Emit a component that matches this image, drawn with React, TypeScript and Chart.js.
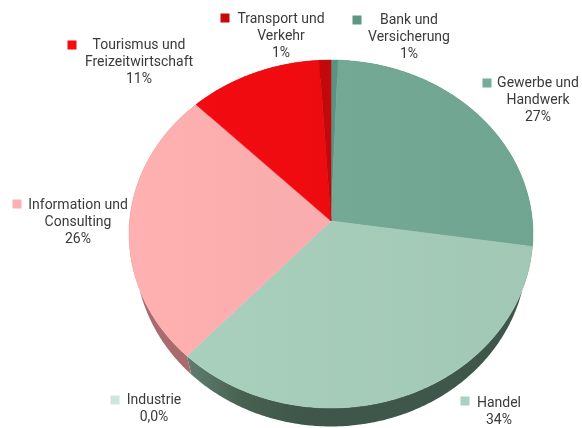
import React, { useEffect, useRef } from "react";
import { Chart, registerables } from "chart.js";

Chart.register(...registerables);

const categories = ["Bank und\nVersicherung", "Gewerbe und\nHandwerk", "Industrie", "Handel", "Information und\nConsulting", "Tourismus und\nFreizeitwirtschaft", "Transport und\nVerkehr"];
const shareValues = [0.6, 26.6, 0, 34.3, 25.6, 11.4, 1];
const shareLabels = ["1%", "27%", "0,0%", "34%", "26%", "11%", "1%"];
const faceColors = ["#5c9684", "#76ad98", "#cfe6dd", "#aad0be", "#ffb0b1", "#f40b10", "#c8080c"];
const sideColors = ["#3a5a4e", "#44604f", "#5f7e70", "#3f574b", "#a96b6d", "#8a1012", "#701012"];

// label layout: text-centre x, first line centre y, marker centre x, marker centre y
const labelLayout = [
  [409, 20, 357, 20],
  [538, 83, 487, 83],
  [154, 400, 115, 400],
  [499, 403, 465, 401],
  [78, 205, 17, 204],
  [139, 45, 72, 45],
  [281, 19, 225, 18],
];

const HUB_X = 331;
const HUB_Y = 221;
const A = 201.4;
const B = 173;
const K = 0.0747;
const DEPTH = 18.5;
const BOTTOM_SCALE = 0.97;

function project(angle: number, bottom: boolean) {
  const t = angle + Math.PI / 2;
  const s = Math.sin(t);
  const c = Math.cos(t);
  const w = 1 + K * c;
  return {
    x: HUB_X + (A * (bottom ? BOTTOM_SCALE : 1) * s) / w,
    y: HUB_Y + (bottom ? DEPTH : 0) - (B * c) / w,
  };
}

function trace(ctx: CanvasRenderingContext2D, a0: number, a1: number, bottom: boolean, first: boolean) {
  const steps = Math.max(2, Math.ceil(Math.abs(a1 - a0) / 0.01));
  for (let i = 0; i <= steps; i++) {
    const p = project(a0 + ((a1 - a0) * i) / steps, bottom);
    if (i === 0 && first) ctx.moveTo(p.x, p.y);
    else ctx.lineTo(p.x, p.y);
  }
}

const perspectivePie = {
  id: "perspectivePie",
  beforeDatasetsDraw(chart: any) {
    const ctx: CanvasRenderingContext2D = chart.ctx;
    const arcs = chart.getDatasetMeta(0).data;
    ctx.save();
    // rim
    arcs.forEach((arc: any, i: number) => {
      if (arc.endAngle - arc.startAngle <= 0) return;
      ctx.beginPath();
      trace(ctx, arc.startAngle, arc.endAngle, false, true);
      trace(ctx, arc.endAngle, arc.startAngle, true, false);
      ctx.closePath();
      let fill: any = sideColors[i];
      if (i === 3) {
        const g = ctx.createLinearGradient(187, 0, 300, 0);
        g.addColorStop(0, "#5f7e70");
        g.addColorStop(0.5, "#47604f");
        g.addColorStop(1, sideColors[i]);
        fill = g;
      }
      ctx.fillStyle = fill;
      ctx.fill();
    });
    // top face
    arcs.forEach((arc: any, i: number) => {
      if (arc.endAngle - arc.startAngle <= 0) return;
      ctx.beginPath();
      ctx.moveTo(HUB_X, HUB_Y);
      trace(ctx, arc.startAngle, arc.endAngle, false, false);
      ctx.closePath();
      ctx.fillStyle = faceColors[i];
      ctx.strokeStyle = faceColors[i];
      ctx.lineWidth = 0.5;
      ctx.fill();
      ctx.stroke();
    });
    // soft sheen
    ctx.beginPath();
    trace(ctx, 0, Math.PI * 2, false, true);
    ctx.closePath();
    const sheen = ctx.createLinearGradient(129, 0, 533, 0);
    sheen.addColorStop(0, "rgba(0,30,15,0)");
    sheen.addColorStop(1, "rgba(0,30,15,0.05)");
    ctx.fillStyle = sheen;
    ctx.fill();
    // labels
    ctx.font = "14px Roboto";
    ctx.textAlign = "center";
    ctx.textBaseline = "middle";
    categories.forEach((cat, i) => {
      const [tx, ty, mx, my] = labelLayout[i];
      ctx.fillStyle = faceColors[i];
      ctx.fillRect(mx - 4.5, my - 4.5, 9, 9);
      ctx.fillStyle = "#3a3a3a";
      const lines = [...cat.split("\n"), shareLabels[i]];
      lines.forEach((line, j) => ctx.fillText(line, tx, ty + j * 17.3));
    });
    ctx.restore();
    return false;
  },
};

export default function App() {
  const ref = useRef<HTMLCanvasElement>(null);
  useEffect(() => {
    const chart = new Chart(ref.current!, {
      type: "pie",
      data: {
        labels: categories,
        datasets: [{ data: shareValues, backgroundColor: faceColors, borderWidth: 0 }],
      },
      options: {
        responsive: false,
        animation: false,
        plugins: { legend: { display: false }, tooltip: { enabled: false } },
      },
      plugins: [perspectivePie],
    } as any);
    return () => chart.destroy();
  }, []);
  return (
    <div style={{ position: "fixed", left: 0, top: 0, width: 582, height: 428, background: "#fff" }}>
      <canvas ref={ref} width={582} height={428} style={{ display: "block" }} />
    </div>
  );
}
